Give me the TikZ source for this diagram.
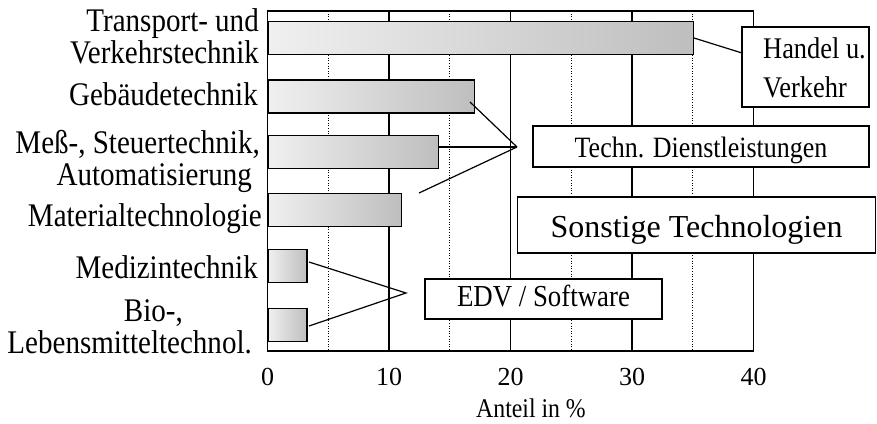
\documentclass[tikz,border=0pt]{standalone}
\usepackage{fontspec}
\setmainfont{Liberation Serif}
\newfontfamily\narrowrm{Liberation Serif}[FakeStretch=0.88]
\definecolor{barL}{RGB}{240,240,240}
\definecolor{barR}{RGB}{190,190,190}
\begin{document}
\begin{tikzpicture}[x=1pt,y=-1pt,
  gridsolid/.style={line width=1.1pt},
  griddot/.style={line width=1.1pt, dash pattern=on 1pt off 1.6pt},
  barbox/.style={draw=black, line width=1.2pt, left color=barL, right color=barR,
    anchor=west, minimum height=33pt, inner sep=0pt},
  lab/.style={font=\narrowrm\fontsize{33}{33}\selectfont, anchor=base east, inner sep=0pt},
  box/.style={draw=black, fill=white, line width=1.2pt, inner sep=0pt},
  conn/.style={line width=1.2pt},
  ticklab/.style={font=\fontsize{26}{26}\selectfont, anchor=base, inner sep=0pt}
]
\useasboundingbox (0,0) rectangle (877,423);
% grid
\foreach \v in {10,20,30}
  \draw[gridsolid] ({267.5+12.15*\v},11) -- ({267.5+12.15*\v},351);
\foreach \v in {5,15,25,35}
  \draw[griddot] ({267.5+12.15*\v},11) -- ({267.5+12.15*\v},351);
\draw[gridsolid] (267.5,11) rectangle (753.5,351);
% bars
\node[barbox, minimum width={12.15*35}] (b1) at (267.5,38) {};
\node[barbox, minimum width={12.15*17}] (b2) at (267.5,96.5) {};
\node[barbox, minimum width={12.15*14}] (b3) at (267.5,152) {};
\node[barbox, minimum width={12.15*11}] (b4) at (267.5,210) {};
\node[barbox, minimum width={12.15*3.2}] (b5) at (267.5,266) {};
\node[barbox, minimum width={12.15*3.2}] (b6) at (267.5,325) {};
% boxes
\node[box, minimum width=127pt, minimum height=80pt] (hv) at (805.5,67) {};
\node[anchor=base west, inner sep=0pt, font=\narrowrm\fontsize{30}{30}\selectfont] (hvt1) at (763,58) {Handel u.};
\node[anchor=base west, inner sep=0pt, font=\narrowrm\fontsize{30}{30}\selectfont] (hvt2) at (763,97) {Verkehr};
\node[box, minimum width=336pt, minimum height=41pt, font=\narrowrm\fontsize{29.5}{29.5}\selectfont,
  text height=21pt, text depth=0pt] (td) at (701,146.5) {Techn. Dienstleistungen};
\node[box, minimum width=358pt, minimum height=56pt, font=\fontsize{32}{32}\selectfont,
  text height=24pt, text depth=0pt] (st) at (696.5,225) {Sonstige Technologien};
\node[box, minimum width=237pt, minimum height=40pt, font=\narrowrm\fontsize{30.5}{30.5}\selectfont,
  text height=18pt, text depth=2.6pt] (ed) at (543.5,299) {EDV / Software};
% connectors
\coordinate (hvin) at (742,53);
\draw[conn] (b1.east) -- (hvin);
\coordinate (tdj) at (517,147);
\coordinate (tds2) at (470,102);
\coordinate (tds4) at (419,193);
\draw[conn] (tds2) -- (tdj);
\draw[conn] (b3.east |- tdj) -- (tdj);
\draw[conn] (tds4) -- (tdj);
\coordinate (edj) at (406,293);
\coordinate (eds5) at (309,262);
\coordinate (eds6) at (309,326);
\draw[conn] (eds5) -- (edj) -- (eds6);
% category labels
\node[lab] (l1a) at (259,31.7) {Transport- und};
\node[lab] (l1b) at (259,63.3) {Verkehrstechnik};
\node[lab] (l2) at (258,105) {Gebäudetechnik};
\node[lab] (l3a) at (260,153.5) {Meß-, Steuertechnik,};
\node[lab] (l3b) at (252,185) {Automatisierung};
\node[lab] (l4) at (262,226) {Materialtechnologie};
\node[lab] (l5) at (258,278.3) {Medizintechnik};
\node[lab] (l6a) at (183,321) {Bio-,};
\node[lab] (l6b) at (252,353.3) {Lebensmitteltechnol.};
% axis numbers
\foreach \v/\n in {0/t0,10/t10,20/t20,30/t30,40/t40}
  \node[ticklab] (\n) at ({267.5+12.15*\v},385) {\v};
\node[anchor=base, inner sep=0pt, font=\narrowrm\fontsize{27}{27}\selectfont] (axl) at (531,417) {Anteil in \%};
\end{tikzpicture}
\end{document}
